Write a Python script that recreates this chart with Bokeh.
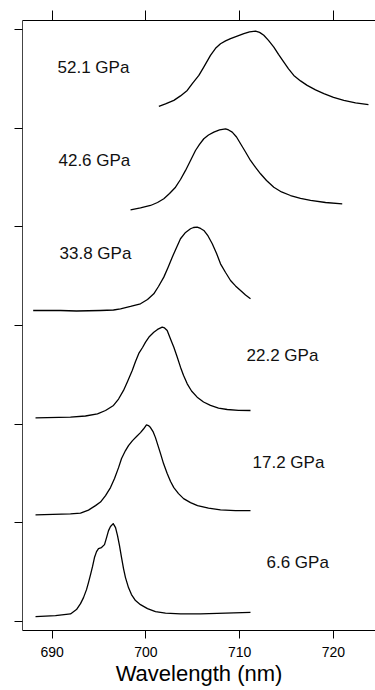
from bokeh.plotting import figure
from bokeh.models import Range1d, LinearAxis, FixedTicker, CustomLabelingPolicy
from bokeh.core.properties import value
from bokeh.embed import file_html
from bokeh.resources import INLINE

# ---- data (wavelength in nm, intensity in axis units above each trace's baseline tick) ----
wl_6_6 = [688.22, 690.35, 691.95, 692.59, 693.02, 693.34, 693.66, 693.87, 694.09, 694.30,
          694.51, 694.73, 694.94, 695.26, 695.58, 695.80, 696.01, 696.22, 696.51, 696.76,
          696.97, 697.18, 697.40, 697.61, 697.82, 698.14, 698.46, 698.89, 699.42, 700.17,
          701.02, 702.09, 703.69, 705.83, 708.50, 711.16]
in_6_6 = [0.051, 0.061, 0.078, 0.122, 0.182, 0.243, 0.324, 0.395, 0.476, 0.557,
          0.649, 0.709, 0.740, 0.750, 0.780, 0.851, 0.922, 0.963, 0.993, 0.953,
          0.872, 0.770, 0.649, 0.537, 0.446, 0.345, 0.274, 0.213, 0.172, 0.132,
          0.101, 0.086, 0.078, 0.078, 0.086, 0.094]

wl_17_2 = [688.22, 691.95, 693.02, 693.87, 694.62, 695.15, 695.69, 696.22, 696.65, 697.08,
           697.40, 697.82, 698.14, 698.57, 699.00, 699.42, 699.74, 700.06, 700.27, 700.49,
           700.76, 701.02, 701.29, 701.56, 701.88, 702.27, 702.63, 702.98, 703.48, 704.02,
           704.76, 705.51, 706.68, 707.96, 709.56, 711.16]
in_17_2 = [0.081, 0.091, 0.099, 0.130, 0.175, 0.211, 0.277, 0.358, 0.449, 0.560,
           0.652, 0.733, 0.783, 0.834, 0.875, 0.915, 0.951, 0.993, 0.986, 0.966,
           0.925, 0.864, 0.783, 0.702, 0.601, 0.500, 0.419, 0.358, 0.297, 0.246,
           0.206, 0.175, 0.150, 0.132, 0.125, 0.125]

wl_22_2 = [688.22, 691.95, 693.55, 694.83, 695.69, 696.54, 697.08, 697.61, 698.04, 698.54,
           698.89, 699.24, 699.64, 699.96, 700.38, 700.84, 701.24, 701.74, 701.99, 702.27,
           702.52, 702.73, 702.98, 703.32, 703.69, 704.02, 704.41, 704.87, 705.47, 706.15,
           706.89, 707.75, 708.68, 709.88, 711.16]
in_22_2 = [0.065, 0.071, 0.083, 0.105, 0.139, 0.190, 0.255, 0.342, 0.433, 0.544,
           0.635, 0.717, 0.777, 0.831, 0.889, 0.932, 0.960, 0.983, 0.975, 0.950,
           0.889, 0.838, 0.780, 0.686, 0.578, 0.494, 0.409, 0.336, 0.274, 0.225,
           0.190, 0.164, 0.149, 0.141, 0.139]

wl_33_8 = [687.97, 690.89, 692.59, 695.15, 696.54, 697.29, 698.36, 699.42, 700.17, 700.84,
           701.34, 701.91, 702.36, 702.81, 703.27, 703.69, 704.23, 704.76, 705.08, 705.47,
           705.83, 706.18, 706.63, 707.08, 707.54, 707.96, 708.50, 709.03, 709.56, 710.10,
           710.63, 711.16]
in_33_8 = [0.152, 0.152, 0.147, 0.152, 0.157, 0.169, 0.193, 0.220, 0.264, 0.321,
           0.395, 0.490, 0.588, 0.692, 0.791, 0.879, 0.943, 0.980, 0.993, 0.996,
           0.983, 0.963, 0.907, 0.828, 0.730, 0.625, 0.537, 0.456, 0.401, 0.355,
           0.309, 0.271]

wl_42_6 = [698.36, 699.42, 700.49, 701.24, 701.91, 702.52, 703.16, 703.69, 704.23, 704.76,
           705.29, 705.72, 706.18, 706.68, 707.25, 707.86, 708.50, 708.82, 709.21, 709.67,
           710.10, 710.63, 711.16, 711.70, 712.23, 712.87, 713.65, 714.47, 715.43, 716.50,
           717.57, 719.17, 720.95]
in_42_6 = [0.172, 0.191, 0.216, 0.246, 0.284, 0.337, 0.401, 0.479, 0.571, 0.672,
           0.773, 0.834, 0.892, 0.930, 0.959, 0.981, 0.993, 0.981, 0.959, 0.910,
           0.841, 0.758, 0.672, 0.601, 0.537, 0.469, 0.401, 0.353, 0.317, 0.289,
           0.267, 0.246, 0.233]

wl_52_1 = [701.38, 702.09, 702.98, 703.69, 704.41, 704.97, 705.65, 706.25, 706.89, 707.43,
           707.96, 708.50, 709.03, 709.67, 710.45, 711.06, 711.70, 712.13, 712.58, 713.08,
           713.65, 714.15, 714.72, 715.22, 715.78, 716.50, 717.21, 718.10, 718.99, 720.02,
           721.12, 722.37, 723.75]
in_52_1 = [0.220, 0.245, 0.281, 0.326, 0.382, 0.453, 0.534, 0.630, 0.737, 0.808,
           0.855, 0.884, 0.906, 0.929, 0.957, 0.975, 0.983, 0.970, 0.940, 0.889,
           0.821, 0.747, 0.669, 0.600, 0.534, 0.478, 0.433, 0.387, 0.349, 0.311,
           0.281, 0.255, 0.237]

series_wl = [wl_6_6, wl_17_2, wl_22_2, wl_33_8, wl_42_6, wl_52_1]
series_in = [in_6_6, in_17_2, in_22_2, in_33_8, in_42_6, in_52_1]
offsets = [0, 1, 2, 3, 4, 5]

labels = ["6.6 GPa", "17.2 GPa", "22.2 GPa", "33.8 GPa", "42.6 GPa", "52.1 GPa"]
label_x = [712.87, 711.38, 710.74, 690.78, 690.67, 690.57]
label_y = [0.598, 1.611, 2.696, 3.730, 4.672, 5.615]

x_ticks = [690, 700, 710, 720]
y_ticks = [0, 1, 2, 3, 4, 5, 6]

FONT = "Liberation Sans"

p = figure(width=375, height=690, output_backend="svg", toolbar_location=None,
           x_range=Range1d(686.83, 724.50), y_range=Range1d(-0.09, 6.09),
           min_border_left=22, min_border_right=0, min_border_top=20, min_border_bottom=60)
p.outline_line_color = None
p.grid.visible = False
p.background_fill_color = "white"
p.border_fill_color = "white"

for wl, inten, off in zip(series_wl, series_in, offsets):
    p.line(wl, [v + off for v in inten], line_color="black", line_width=1.3,
           line_join="round")

p.text(x=label_x, y=label_y, text=labels, text_font=value(FONT), text_font_size="17px",
       text_align="left", text_baseline="middle", text_color="#111111")

# bottom axis
xa = p.xaxis[0]
xa.ticker = FixedTicker(ticks=x_ticks)
xa.minor_tick_line_color = None
xa.major_tick_in = 0
xa.major_tick_out = 8
xa.major_label_standoff = 8
xa.major_label_text_font = FONT
xa.major_label_text_font_size = "14px"
xa.major_label_text_color = "black"
xa.axis_label = "Wavelength (nm)"
xa.axis_label_text_font = FONT
xa.axis_label_text_font_size = "22px"
xa.axis_label_text_font_style = "normal"
xa.axis_label_text_color = "black"
xa.axis_label_standoff = 1
xa.axis_line_color = "black"
xa.major_tick_line_color = "black"

# left axis (ticks only)
ya = p.yaxis[0]
ya.ticker = FixedTicker(ticks=y_ticks)
ya.minor_tick_line_color = None
ya.major_tick_in = 0
ya.major_tick_out = 8
ya.major_label_standoff = 0
ya.major_label_text_font_size = "0px"
ya.major_label_policy = CustomLabelingPolicy(code="return []")
ya.axis_line_color = "#444444"
ya.major_tick_line_color = "black"

# top axis (ticks only)
ta = LinearAxis(ticker=FixedTicker(ticks=x_ticks))
ta.minor_tick_line_color = None
ta.major_tick_in = 0
ta.major_tick_out = 10
ta.major_label_standoff = 0
ta.major_label_text_font_size = "0px"
ta.major_label_policy = CustomLabelingPolicy(code="return []")
ta.axis_line_color = "black"
p.add_layout(ta, "above")

open("out.html", "w").write(file_html(p, INLINE))
